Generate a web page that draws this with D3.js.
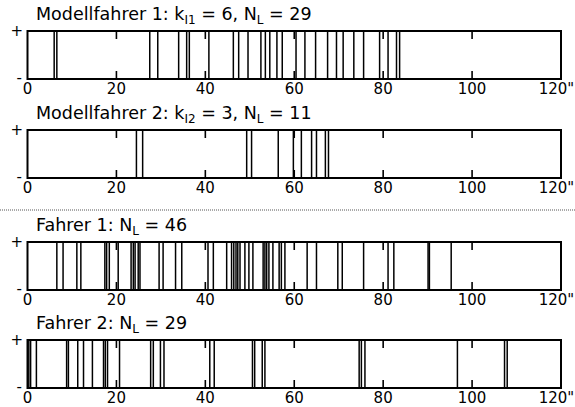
<!DOCTYPE html>
<html>
<head>
<meta charset="utf-8">
<script src="https://cdn.jsdelivr.net/npm/d3@7"></script>
<style>
  body { margin: 0; background: #fff; }
  text { font-family: "DejaVu Sans", Verdana, sans-serif; fill: #000; }
</style>
</head>
<body>
<div id="container"></div>
<script>
const width = 575;
const height = 407;

// event times (seconds)
const modell1 = [6.0, 6.6, 27.5, 29.3, 34.0, 35.8, 36.4, 40.8, 46.3, 47.5, 49.6, 52.5, 53.5, 54.5,
  56.1, 57.3, 60.4, 62.4, 64.8, 67.5, 69.5, 71.0, 73.4, 75.6, 79.2, 81.1, 83.0, 83.7];
const modell2 = [24.5, 25.9, 49.3, 50.4, 56.4, 59.8, 61.6, 63.9, 65.0, 67.0, 67.7];
const fahrer1 = [6.6, 8.0, 11.1, 12.0, 17.4, 17.8, 18.4, 20.4, 23.3, 23.8, 24.2, 24.9, 25.3,
  29.6, 30.5, 33.3, 34.7, 40.6, 41.8, 44.8, 45.9, 46.4, 46.9, 47.3, 47.8, 48.9, 49.8, 50.7,
  53.0, 53.4, 53.8, 54.3, 55.2, 56.6, 57.1, 57.9, 62.9, 65.0, 69.8, 70.8, 75.6, 81.1, 82.4,
  90.1, 90.4, 95.3];
const fahrer2 = [0.3, 0.7, 2.0, 8.8, 9.2, 11.3, 12.6, 14.6, 17.1, 17.5, 18.0, 20.7, 27.7, 28.3,
  29.9, 30.7, 41.0, 42.0, 50.6, 51.1, 52.8, 53.4, 74.6, 75.1, 75.9, 96.7, 107.3, 107.9];

const tickValues = [0, 20, 40, 60, 80, 100, 120];
const tickLabels = ["0", "20", "40", "60", "80", "100", "120\""];

// title pieces: [text, isSubscript]
const panels = [
  { title: [["Modellfahrer 1: k", false], ["I1", true], [" = 6, N", false], ["L", true], [" = 29", false]], data: modell1, top: 31 },
  { title: [["Modellfahrer 2: k", false], ["I2", true], [" = 3, N", false], ["L", true], [" = 11", false]], data: modell2, top: 130 },
  { title: [["Fahrer 1: N", false], ["L", true], [" = 46", false]], data: fahrer1, top: 242 },
  { title: [["Fahrer 2: N", false], ["L", true], [" = 29", false]], data: fahrer2, top: 340 }
];

const boxH = 48;

const x = d3.scaleLinear().domain([0, 120]).range([27.5, 561]);

const svg = d3.select("#container")
  .append("svg")
  .attr("width", width)
  .attr("height", height);

// dotted separator between model and real drivers
svg.append("line")
  .attr("x1", 0).attr("x2", width)
  .attr("y1", 210).attr("y2", 210)
  .attr("stroke", "#555")
  .attr("stroke-width", 1)
  .attr("stroke-dasharray", "1,1");

panels.forEach(p => {
  const g = svg.append("g").attr("transform", `translate(0,${p.top})`);

  // title with subscripts
  const t = g.append("text")
    .attr("x", 36).attr("y", -7)
    .style("font-size", "17.5px");
  p.title.forEach(([s, sub]) => {
    if (sub) {
      t.append("tspan").attr("dy", 4).style("font-size", "12px").text(s);
    } else {
      t.append("tspan").attr("dy", t.selectAll("tspan").size() ? -4 : 0).text(s);
    }
  });

  // event lines
  g.selectAll("line.ev")
    .data(p.data)
    .join("line")
    .attr("class", "ev")
    .attr("x1", d => x(d)).attr("x2", d => x(d))
    .attr("y1", 0).attr("y2", boxH)
    .attr("stroke", "#000")
    .attr("stroke-width", 1.5);

  // inner ticks, top and bottom
  const inner = tickValues.filter(d => d > 0 && d < 120);
  g.selectAll("line.tt")
    .data(inner)
    .join("line")
    .attr("class", "tt")
    .attr("x1", d => x(d)).attr("x2", d => x(d))
    .attr("y1", 0).attr("y2", 8)
    .attr("stroke", "#000").attr("stroke-width", 1.6);
  g.selectAll("line.tb")
    .data(inner)
    .join("line")
    .attr("class", "tb")
    .attr("x1", d => x(d)).attr("x2", d => x(d))
    .attr("y1", boxH - 8).attr("y2", boxH)
    .attr("stroke", "#000").attr("stroke-width", 1.6);

  // frame
  g.append("rect")
    .attr("x", x(0)).attr("y", 0)
    .attr("width", x(120) - x(0)).attr("height", boxH)
    .attr("fill", "none")
    .attr("stroke", "#000")
    .attr("stroke-width", 2);

  // tick labels (last one pulled in so it stays inside the page)
  g.selectAll("text.tl")
    .data(tickValues)
    .join("text")
    .attr("class", "tl")
    .attr("x", (d, i) => i === tickValues.length - 1 ? x(d) - 4.5 : x(d))
    .attr("y", boxH + 15)
    .attr("text-anchor", "middle")
    .style("font-size", "15px")
    .text((d, i) => tickLabels[i]);

  g.append("text")
    .attr("x", 23).attr("y", 5)
    .attr("text-anchor", "end")
    .style("font-size", "15px")
    .text("+");
  g.append("text")
    .attr("x", 22).attr("y", boxH + 4)
    .attr("text-anchor", "end")
    .style("font-size", "15px")
    .text("-");
});
</script>
</body>
</html>
